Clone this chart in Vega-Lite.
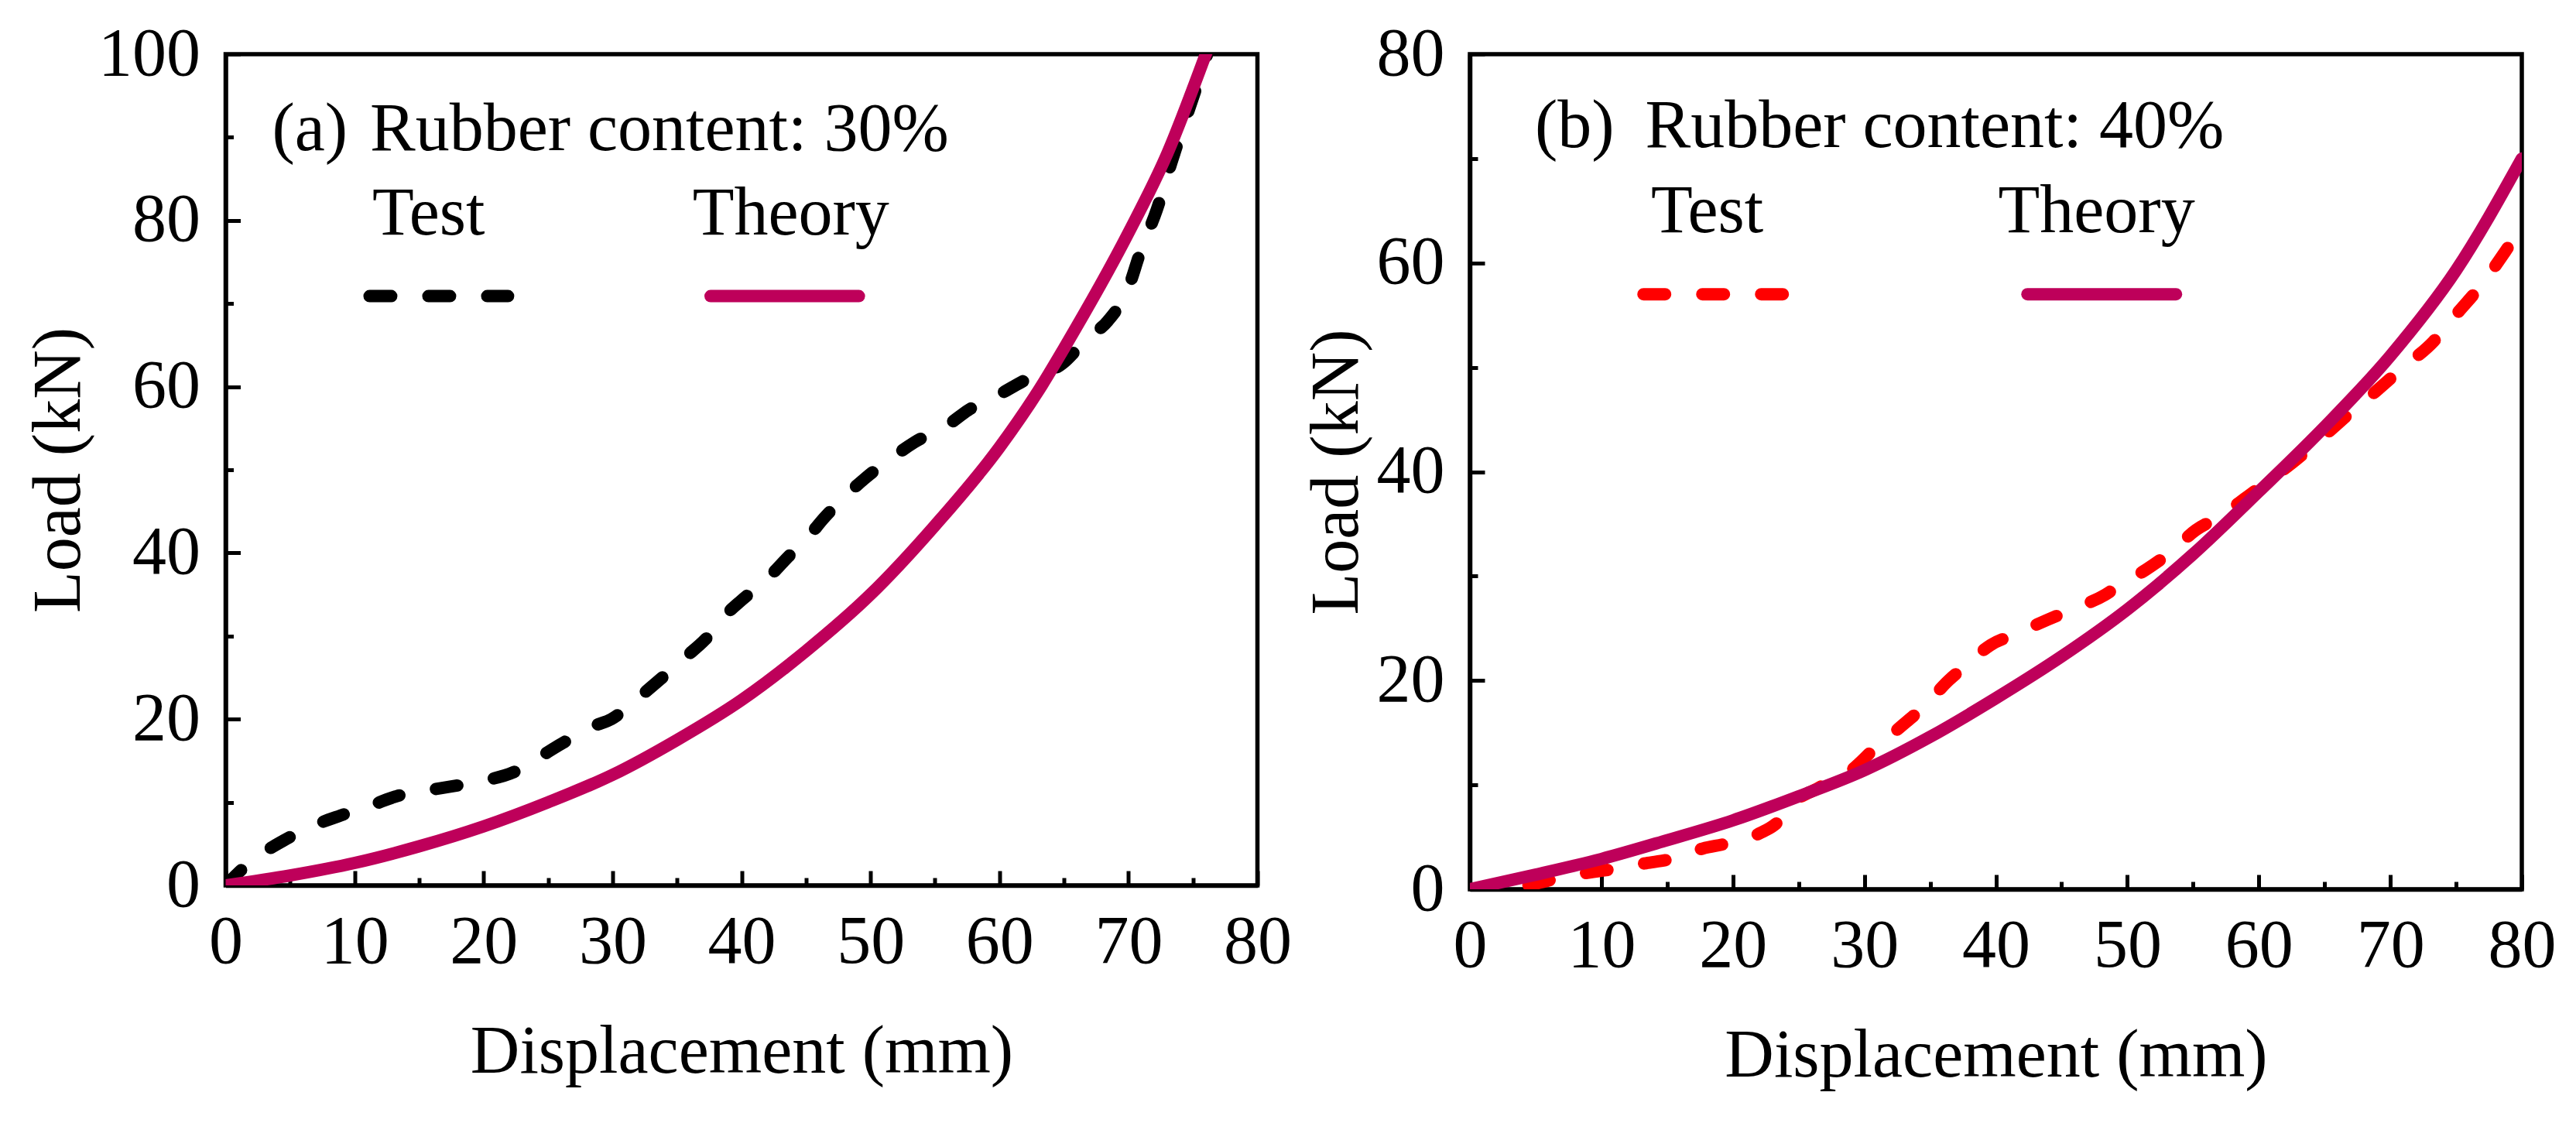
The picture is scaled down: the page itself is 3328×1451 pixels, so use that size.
{
  "$schema": "https://vega.github.io/schema/vega-lite/v6.json",
  "background": "white",
  "padding": {"left": 28.5, "top": 23, "right": 10, "bottom": 10},
  "autosize": {"type": "pad"},
  "bounds": "flush",
  "spacing": 274.5,
  "datasets": {
    "a_test": [
      {"x": 0, "y": 0}, {"x": 1.9, "y": 2.8}, {"x": 4.5, "y": 5.4}, {"x": 7.3, "y": 7.5},
      {"x": 8.9, "y": 8.4}, {"x": 11.4, "y": 9.7}, {"x": 13.4, "y": 10.8}, {"x": 15.9, "y": 11.5},
      {"x": 17.5, "y": 11.9}, {"x": 20, "y": 12.6}, {"x": 22.3, "y": 13.6}, {"x": 24.2, "y": 15.3},
      {"x": 26, "y": 17}, {"x": 28.6, "y": 19.2}, {"x": 29.9, "y": 20}, {"x": 32.1, "y": 22.7},
      {"x": 33.7, "y": 24.8}, {"x": 35.6, "y": 27.4}, {"x": 37.2, "y": 29.6}, {"x": 38.8, "y": 32.6},
      {"x": 40, "y": 34.3}, {"x": 42, "y": 36.9}, {"x": 43.6, "y": 39.5}, {"x": 45.2, "y": 42},
      {"x": 46.4, "y": 44.2}, {"x": 48.3, "y": 47.2}, {"x": 49.6, "y": 49}, {"x": 51.8, "y": 51.6},
      {"x": 53.4, "y": 53.3}, {"x": 56, "y": 55.4}, {"x": 57.6, "y": 57.2}, {"x": 59.8, "y": 58.9},
      {"x": 62, "y": 60.8}, {"x": 64.9, "y": 62.8}, {"x": 66.8, "y": 65.8}, {"x": 68.4, "y": 67.9},
      {"x": 70, "y": 71.9}, {"x": 70.9, "y": 76.1}, {"x": 72.2, "y": 81.3}, {"x": 73.4, "y": 87.3},
      {"x": 74.7, "y": 93.4}, {"x": 75.8, "y": 98.5}, {"x": 76.3, "y": 101}
    ],
    "a_theory": [
      {"x": 0, "y": 0}, {"x": 5, "y": 1.2}, {"x": 10, "y": 2.7}, {"x": 15, "y": 4.7},
      {"x": 20, "y": 7.1}, {"x": 25, "y": 10}, {"x": 30, "y": 13.3}, {"x": 35, "y": 17.5},
      {"x": 40, "y": 22.3}, {"x": 45, "y": 28.2}, {"x": 50, "y": 35}, {"x": 55, "y": 43.3},
      {"x": 60, "y": 52.7}, {"x": 63.3, "y": 60.2}, {"x": 65, "y": 64.6}, {"x": 70, "y": 78.5},
      {"x": 73, "y": 88}, {"x": 76, "y": 100}, {"x": 76.6, "y": 102.5}
    ],
    "a_leg_test": [{"x": 11.16, "y": 70.9}, {"x": 21.9, "y": 70.9}],
    "a_leg_theory": [{"x": 37.6, "y": 70.9}, {"x": 49.1, "y": 70.9}],
    "a_text": [
      {"label": "(a)", "x": 3.6, "y": 88.5},
      {"label": "Rubber content: 30%", "x": 11.19, "y": 88.5},
      {"label": "Test", "x": 11.38, "y": 78.3},
      {"label": "Theory", "x": 36.2, "y": 78.3}
    ],
    "b_test": [
      {"x": 0, "y": 0}, {"x": 2.7, "y": 0.1}, {"x": 5.2, "y": 0.6}, {"x": 7.1, "y": 1.2},
      {"x": 10.2, "y": 1.8}, {"x": 13.4, "y": 2.5}, {"x": 15.3, "y": 2.9}, {"x": 17.7, "y": 3.9},
      {"x": 19.6, "y": 4.4}, {"x": 22.1, "y": 5.4}, {"x": 23.3, "y": 6.3}, {"x": 24.6, "y": 8.3},
      {"x": 26.5, "y": 9.7}, {"x": 29, "y": 11.4}, {"x": 30.8, "y": 13.5}, {"x": 32.7, "y": 15.5},
      {"x": 34.6, "y": 17.6}, {"x": 36.4, "y": 20}, {"x": 37.7, "y": 21.4}, {"x": 39.6, "y": 23.4},
      {"x": 41.4, "y": 24.4}, {"x": 43.9, "y": 25.8}, {"x": 45.8, "y": 26.8}, {"x": 48.3, "y": 28.2},
      {"x": 49.5, "y": 29.2}, {"x": 51.4, "y": 30.6}, {"x": 53.3, "y": 32.3}, {"x": 55.2, "y": 34.4},
      {"x": 57, "y": 35.7}, {"x": 58.9, "y": 37.4}, {"x": 60.8, "y": 39.2}, {"x": 62.6, "y": 40.9},
      {"x": 65.1, "y": 43.6}, {"x": 67, "y": 45.7}, {"x": 68.9, "y": 47.7}, {"x": 70.8, "y": 49.8},
      {"x": 73.3, "y": 52.5}, {"x": 75.1, "y": 55.2}, {"x": 77, "y": 58}, {"x": 78.9, "y": 61.4},
      {"x": 79.8, "y": 63.1}
    ],
    "b_theory": [
      {"x": 0, "y": 0}, {"x": 5, "y": 1.4}, {"x": 10, "y": 2.9}, {"x": 15, "y": 4.7},
      {"x": 20, "y": 6.6}, {"x": 25, "y": 8.9}, {"x": 30, "y": 11.4}, {"x": 35, "y": 14.6},
      {"x": 40, "y": 18.3}, {"x": 45, "y": 22.3}, {"x": 50, "y": 26.8}, {"x": 55, "y": 32.1},
      {"x": 60, "y": 38.1}, {"x": 65, "y": 44.3}, {"x": 70, "y": 51.1}, {"x": 75, "y": 59.3},
      {"x": 80, "y": 70}
    ],
    "b_leg_test": [{"x": 13.2, "y": 57}, {"x": 23.95, "y": 57}],
    "b_leg_theory": [{"x": 42.4, "y": 57}, {"x": 53.7, "y": 57}],
    "b_text": [
      {"label": "(b)", "x": 4.94, "y": 71.08},
      {"label": "Rubber content: 40%", "x": 13.33, "y": 71.08},
      {"label": "Test", "x": 13.77, "y": 62.97},
      {"label": "Theory", "x": 40.18, "y": 62.97}
    ]
  },
  "hconcat": [
    {
      "width": 1333,
      "height": 1074,
      "encoding": {
        "x": {
          "field": "x", "type": "quantitative",
          "scale": {"domain": [0, 80], "nice": false},
          "axis": {
            "title": "Displacement (mm)",
            "values": [0, 5, 10, 15, 20, 25, 30, 35, 40, 45, 50, 55, 60, 65, 70, 75, 80],
            "labelExpr": "datum.value % 10 === 0 ? datum.label : ''",
            "tickSize": {"condition": {"test": "datum.value % 10 === 0", "value": -19}, "value": -10},
            "labelPadding": 48,
            "minExtent": 117, "maxExtent": 117, "titlePadding": 54.5
          }
        },
        "y": {
          "field": "y", "type": "quantitative",
          "scale": {"domain": [0, 100], "nice": false},
          "axis": {
            "title": "Load (kN)",
            "values": [0, 10, 20, 30, 40, 50, 60, 70, 80, 90, 100],
            "labelExpr": "datum.value % 20 === 0 ? datum.label : ''",
            "tickSize": {"condition": {"test": "datum.value % 20 === 0", "value": -19}, "value": -10},
            "labelPadding": 52,
            "minExtent": 165, "maxExtent": 165, "titlePadding": 6.5
          }
        }
      },
      "layer": [
        {"data": {"name": "a_test"}, "mark": {"type": "line", "color": "black", "strokeWidth": 16, "strokeDash": [28, 48], "strokeCap": "round", "clip": true, "interpolate": "monotone"}},
        {"data": {"name": "a_theory"}, "mark": {"type": "line", "color": "#BE005A", "strokeWidth": 16, "strokeCap": "round", "clip": true, "interpolate": "monotone"}},
        {"data": {"name": "a_leg_test"}, "mark": {"type": "line", "color": "black", "strokeWidth": 16, "strokeDash": [28, 48], "strokeCap": "round"}},
        {"data": {"name": "a_leg_theory"}, "mark": {"type": "line", "color": "#BE005A", "strokeWidth": 16, "strokeCap": "round"}},
        {"data": {"name": "a_text"}, "mark": {"type": "text", "align": "left", "baseline": "alphabetic", "fontSize": 88, "font": "Liberation Serif", "color": "black"}, "encoding": {"text": {"field": "label"}}}
      ]
    },
    {
      "width": 1359,
      "height": 1079,
      "encoding": {
        "x": {
          "field": "x", "type": "quantitative",
          "scale": {"domain": [0, 80], "nice": false},
          "axis": {
            "title": "Displacement (mm)",
            "values": [0, 5, 10, 15, 20, 25, 30, 35, 40, 45, 50, 55, 60, 65, 70, 75, 80],
            "labelExpr": "datum.value % 10 === 0 ? datum.label : ''",
            "tickSize": {"condition": {"test": "datum.value % 10 === 0", "value": -19}, "value": -10},
            "labelPadding": 48,
            "minExtent": 117, "maxExtent": 117, "titlePadding": 54.5
          }
        },
        "y": {
          "field": "y", "type": "quantitative",
          "scale": {"domain": [0, 80], "nice": false},
          "axis": {
            "title": "Load (kN)",
            "values": [0, 10, 20, 30, 40, 50, 60, 70, 80],
            "labelExpr": "datum.value % 20 === 0 ? datum.label : ''",
            "tickSize": {"condition": {"test": "datum.value % 20 === 0", "value": -19}, "value": -10},
            "labelPadding": 52,
            "minExtent": 121, "maxExtent": 121, "titlePadding": 7
          }
        }
      },
      "layer": [
        {"data": {"name": "b_test"}, "mark": {"type": "line", "color": "#FF0000", "strokeWidth": 16, "strokeDash": [28, 48], "strokeCap": "round", "clip": true, "interpolate": "monotone"}},
        {"data": {"name": "b_theory"}, "mark": {"type": "line", "color": "#BE005A", "strokeWidth": 16, "strokeCap": "round", "clip": true, "interpolate": "monotone"}},
        {"data": {"name": "b_leg_test"}, "mark": {"type": "line", "color": "#FF0000", "strokeWidth": 16, "strokeDash": [28, 48], "strokeCap": "round"}},
        {"data": {"name": "b_leg_theory"}, "mark": {"type": "line", "color": "#BE005A", "strokeWidth": 16, "strokeCap": "round"}},
        {"data": {"name": "b_text"}, "mark": {"type": "text", "align": "left", "baseline": "alphabetic", "fontSize": 88, "font": "Liberation Serif", "color": "black"}, "encoding": {"text": {"field": "label"}}}
      ]
    }
  ],
  "config": {
    "font": "Liberation Serif",
    "view": {"stroke": "black", "strokeWidth": 5.5},
    "axis": {
      "labelFont": "Liberation Serif", "titleFont": "Liberation Serif",
      "labelFontSize": 88, "titleFontSize": 88, "titleFontWeight": "normal",
      "labelColor": "black", "titleColor": "black",
      "domainColor": "black", "domainWidth": 5.5,
      "tickColor": "black", "tickWidth": 5,
      "grid": false, "labelFlush": false, "labelOverlap": false
    }
  }
}
